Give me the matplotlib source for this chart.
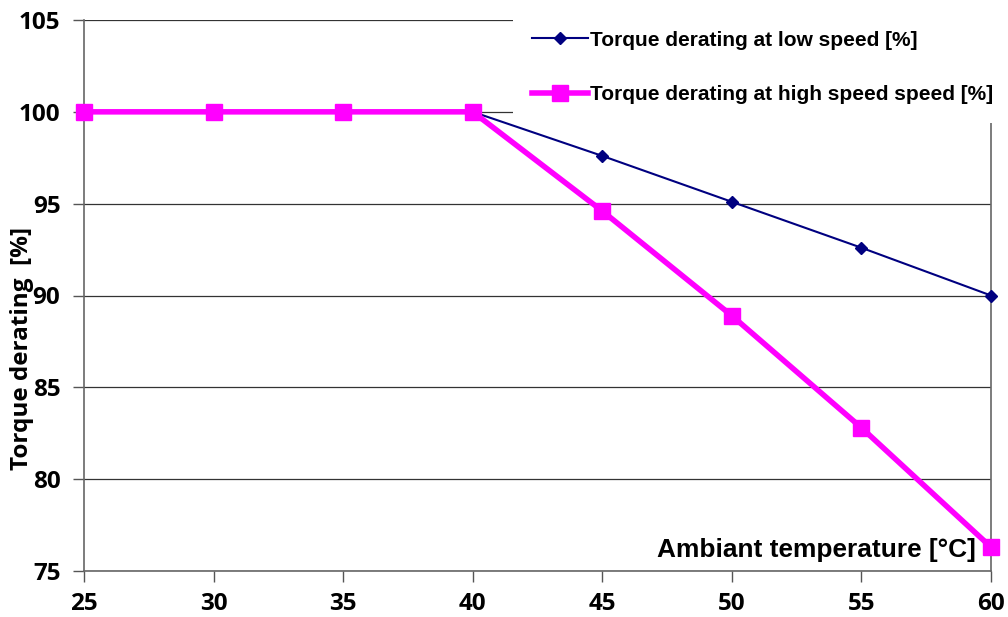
import matplotlib
matplotlib.use("Agg")
import matplotlib.pyplot as plt

temps = [25, 30, 35, 40, 45, 50, 55, 60]
low_speed = [100, 100, 100, 100, 97.6, 95.1, 92.6, 90.0]
high_speed = [100, 100, 100, 100, 94.6, 88.9, 82.8, 76.3]
x_ticks = [25, 30, 35, 40, 45, 50, 55, 60]
y_ticks = [75, 80, 85, 90, 95, 100, 105]
label_low = "Torque derating at low speed [%]"
label_high = "Torque derating at high speed speed [%]"

plt.rcParams['font.family'] = ['Liberation Sans', 'DejaVu Sans']
plt.rcParams['font.weight'] = 'bold'
tick_font = ['Open Sans', 'DejaVu Sans']

fig = plt.figure(figsize=(10.08, 6.17), dpi=100)
ax = fig.add_axes([84/1008, 1 - 571/617, (991 - 84)/1008, (571 - 20)/617])

ax.plot(temps, low_speed, color='#000080', lw=1.5, marker='D', ms=6.5,
        label=label_low, clip_on=False, zorder=4)
ax.plot(temps, high_speed, color='#FF00FF', lw=4, marker='s', ms=11,
        label=label_high, clip_on=False, zorder=5)

ax.set_xlim(25, 60)
ax.set_ylim(75, 105)
ax.set_xticks(x_ticks)
ax.set_yticks(y_ticks)
ax.tick_params(labelsize=17.5, length=8, width=1, color='#555555')
ax.tick_params(axis='x', pad=7)
ax.tick_params(axis='y', pad=9)
for lab in ax.get_xticklabels() + ax.get_yticklabels():
    lab.set_fontweight('bold')
    lab.set_family(tick_font)

ax.yaxis.grid(True, color='#333333', lw=0.9)
ax.set_axisbelow(True)
ax.spines['top'].set_visible(False)
for s in ['left', 'bottom', 'right']:
    ax.spines[s].set_color('#666666')
    ax.spines[s].set_linewidth(1.2)

ax.set_ylabel("Torque derating  [%]", fontsize=17.5, fontweight='bold',
              family=tick_font)
ax.yaxis.set_label_coords(22/1008, 1 - 348/617, transform=fig.transFigure)
ax.yaxis.label.set_va('center')
ax.text(976/1008, 1 - 550/617, "Ambiant temperature [°C]", transform=fig.transFigure,
        ha='right', va='center', fontsize=18.9, fontweight='bold')

leg = ax.legend(loc='upper left', bbox_to_anchor=(513/1008, 1 - 12/617),
                bbox_transform=fig.transFigure, frameon=True, fontsize=15,
                labelspacing=1.7, handlelength=2.7, handletextpad=0.1,
                borderpad=0.9, borderaxespad=0)
leg.get_frame().set_facecolor('white')
leg.get_frame().set_edgecolor('none')
leg.get_frame().set_alpha(1)
leg.set_zorder(10)
for t in leg.get_texts():
    t.set_fontweight('bold')

fig.savefig("out.png", dpi=100)
